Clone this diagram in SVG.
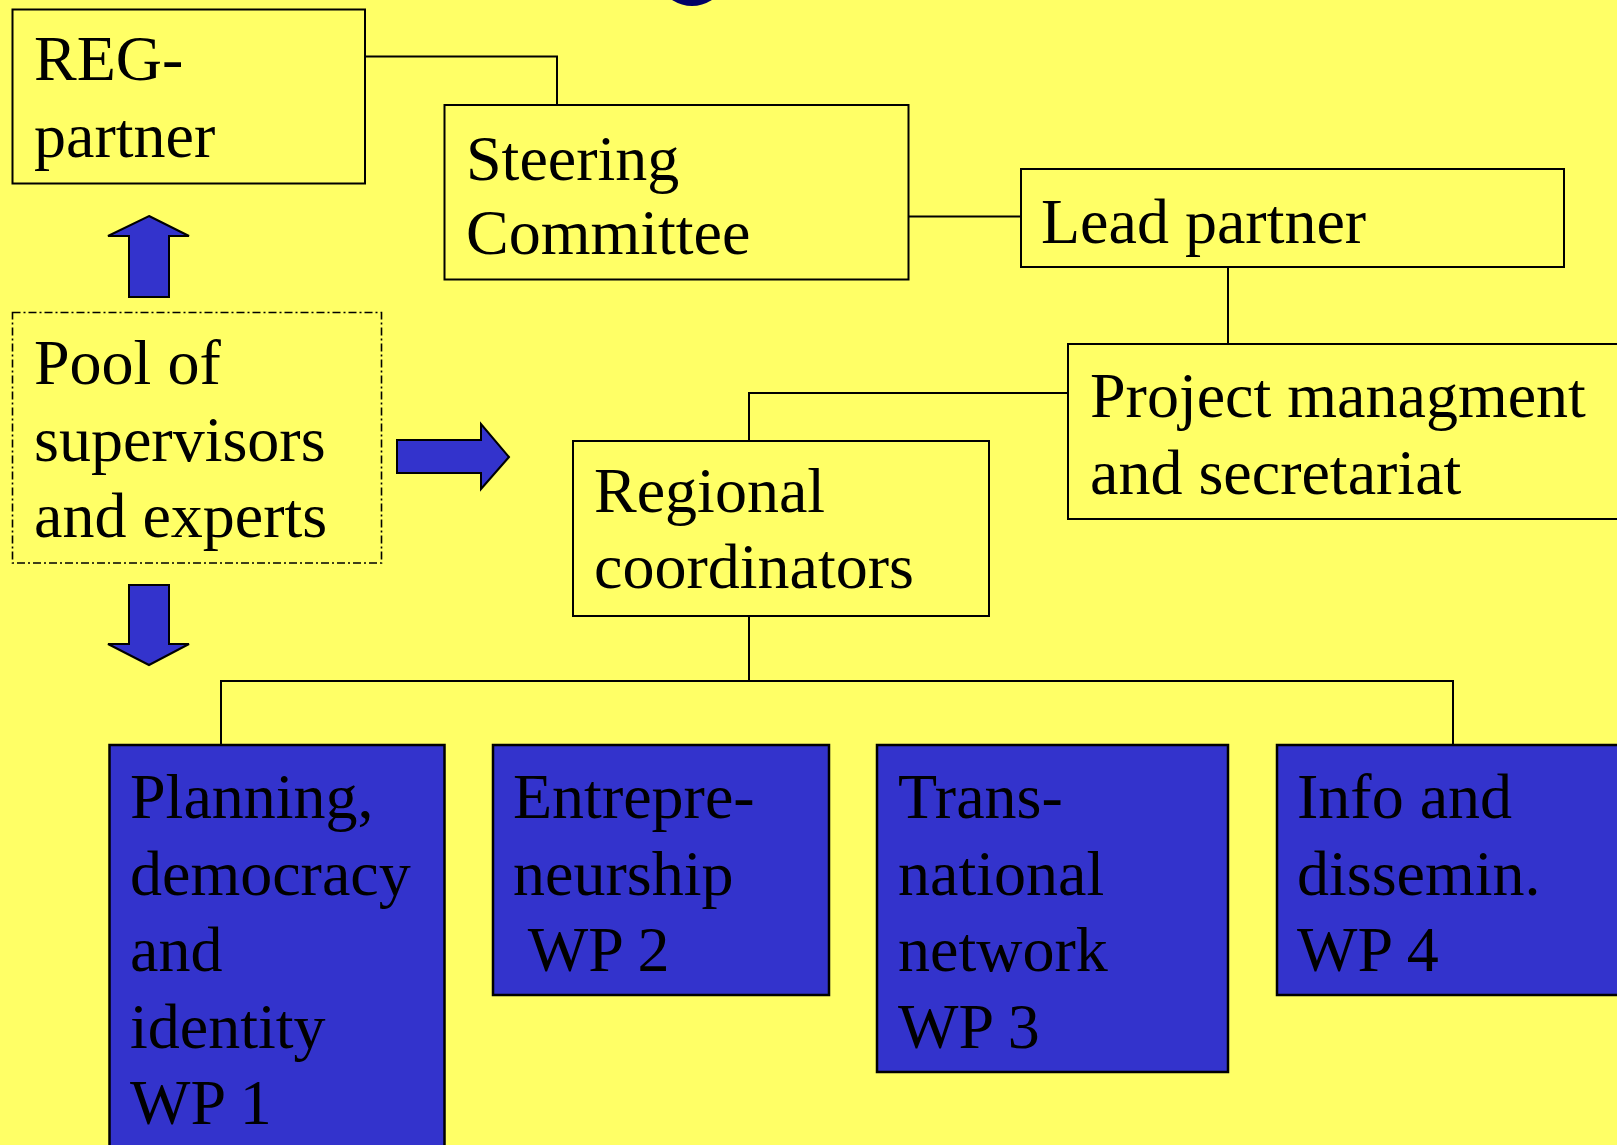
<svg xmlns="http://www.w3.org/2000/svg" width="1617" height="1145" viewBox="0 0 1617 1145">
  <defs>
    <style>
      .box { fill: #FFFF66; stroke: #000; stroke-width: 2; }
      .wp { fill: #3333CC; stroke: #000; stroke-width: 2.5; }
      .pool { fill: none; stroke: #000; stroke-width: 1.6; stroke-dasharray: 8 3 2 3; }
      .link { fill: none; stroke: #000; stroke-width: 2; }
      .arrow { fill: #3333CC; stroke: #000; stroke-width: 2; stroke-linejoin: miter; }
      text { font-family: "Liberation Serif", "Times New Roman", serif; font-size: 64px; fill: #000; }
    </style>
  </defs>

  <!-- background -->
  <rect x="0" y="0" width="1617" height="1145" fill="#FFFF66"/>

  <!-- bottom of the heading glyph cut off at the top edge -->
  <path d="M672,0 Q692,12 712,0 Z" fill="#000066"/>

  <!-- connectors -->
  <g id="connectors">
    <polyline class="link" points="365,56.5 557,56.5 557,105"/>
    <line class="link" x1="908" y1="216.5" x2="1021" y2="216.5"/>
    <line class="link" x1="1228" y1="267" x2="1228" y2="344"/>
    <polyline class="link" points="1068,393 749,393 749,441"/>
    <line class="link" x1="749" y1="616" x2="749" y2="681"/>
    <polyline class="link" points="221,745 221,681 1453,681 1453,745"/>
  </g>

  <g id="reg-partner">
    <rect class="box" x="12.5" y="9.5" width="352.5" height="174"/>
    <text x="34" y="80">REG-</text>
    <text x="34" y="157">partner</text>
  </g>

  <g id="steering-committee">
    <rect class="box" x="444.5" y="105" width="464" height="174.5"/>
    <text x="466" y="180">Steering</text>
    <text x="466" y="254">Committee</text>
  </g>

  <g id="lead-partner">
    <rect class="box" x="1021" y="169" width="543" height="98"/>
    <text x="1041" y="243">Lead partner</text>
  </g>

  <g id="project-management">
    <rect class="box" x="1068" y="344" width="560" height="175"/>
    <text x="1090" y="417">Project managment</text>
    <text x="1090" y="494">and secretariat</text>
  </g>

  <g id="regional-coordinators">
    <rect class="box" x="573" y="441" width="416" height="175"/>
    <text x="594" y="512">Regional</text>
    <text x="594" y="588">coordinators</text>
  </g>

  <g id="pool">
    <rect class="pool" x="12.5" y="312.5" width="369" height="250.5"/>
    <text x="34" y="384">Pool of</text>
    <text x="34" y="461">supervisors</text>
    <text x="34" y="537">and experts</text>
  </g>

  <!-- block arrows out of the pool -->
  <g id="arrow-up">
    <polygon class="arrow" points="149,216 189,236 169,236 169,297 129,297 129,236 108,236"/>
  </g>
  <g id="arrow-right">
    <polygon class="arrow" points="509,457 481,489 481,473 397,473 397,440 481,440 481,424"/>
  </g>
  <g id="arrow-down">
    <polygon class="arrow" points="149,665 189,644 169,644 169,585 129,585 129,644 108,644"/>
  </g>

  <g id="wp1">
    <rect class="wp" x="109.5" y="745" width="335" height="420"/>
    <text x="130" y="818">Planning,</text>
    <text x="130" y="895">democracy</text>
    <text x="130" y="971">and</text>
    <text x="130" y="1048">identity</text>
    <text x="130" y="1124">WP 1</text>
  </g>

  <g id="wp2">
    <rect class="wp" x="493" y="745" width="336" height="250"/>
    <text x="513" y="818">Entrepre-</text>
    <text x="513" y="895">neurship</text>
    <text x="513" y="971" xml:space="preserve"> WP 2</text>
  </g>

  <g id="wp3">
    <rect class="wp" x="877" y="745" width="351" height="327"/>
    <text x="898" y="818">Trans-</text>
    <text x="898" y="895">national</text>
    <text x="898" y="971">network</text>
    <text x="898" y="1048">WP 3</text>
  </g>

  <g id="wp4">
    <rect class="wp" x="1277" y="745" width="360" height="250"/>
    <text x="1297" y="818">Info and</text>
    <text x="1297" y="895">dissemin.</text>
    <text x="1297" y="971">WP 4</text>
  </g>
</svg>
